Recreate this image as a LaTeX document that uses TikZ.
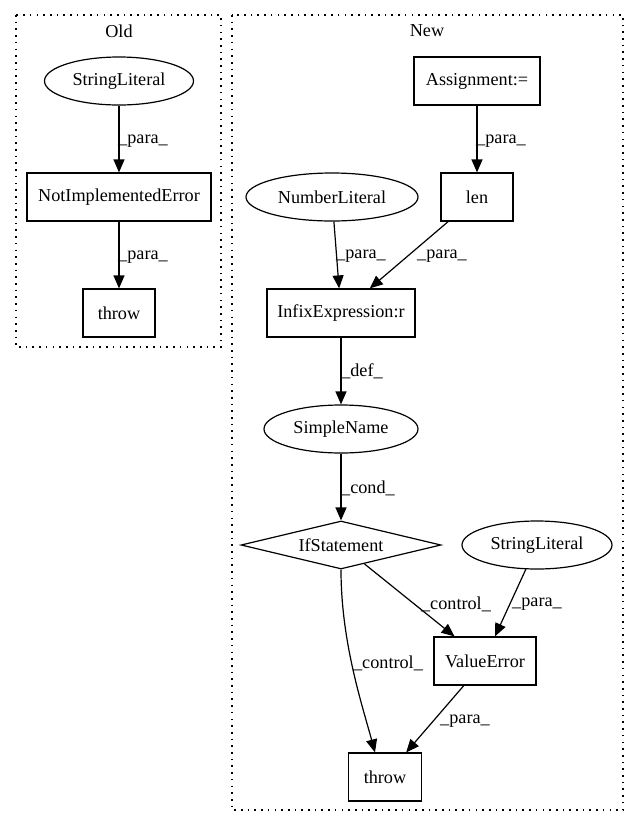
\documentclass[tikz,border=0pt]{standalone}
\usepackage{fontspec}
\setmainfont{Liberation Serif}
\usetikzlibrary{shapes.geometric,arrows.meta}
\begin{document}
\begin{tikzpicture}[x=1pt,y=-1pt,
  font=\fontsize{18.2}{21}\selectfont,
  every node/.style={inner sep=0pt},
  box/.style={draw, rectangle, line width=1.2pt, minimum height=48pt},
  ell/.style={draw, ellipse, line width=1.2pt, minimum height=48pt},
  dia/.style={draw, diamond, line width=1.2pt, minimum width=200pt, minimum height=48pt, aspect=4.17},
  edge/.style={-{Triangle[length=13pt,width=11pt]}, line width=1.2pt},
  cluster/.style={line width=1.3pt, dash pattern=on 1.6pt off 5.1pt}]
\useasboundingbox (0,0) rectangle (639,828);

% Old cluster
\draw[cluster] (16,15) rectangle (221,347);
\node (oldlbl) at (119,31) {Old};
\node[ell, minimum width=149pt] (osl) at (119,81) {StringLiteral};
\node[box, minimum width=184pt] (nie) at (119,197) {NotImplementedError};
\node[box, minimum width=72pt] (othr) at (119,313) {throw};
\draw[edge] (osl) -- (nie);
\node (l1) at (143,141) {\_para\_};
\draw[edge] (nie) -- (othr);
\node (l2) at (143,257) {\_para\_};

% New cluster
\draw[cluster] (232,15) rectangle (623,810);
\node (newlbl) at (427,31) {New};
\node[box, minimum width=126pt] (asg) at (477,81) {Assignment:=};
\node[box, minimum width=72pt] (len) at (477,197) {len};
\node[ell, minimum width=172pt] (nl) at (332,197) {NumberLiteral};
\node[box, minimum width=148pt] (inf) at (341,313) {InfixExpression:r};
\node[ell, minimum width=154pt] (sn) at (341,429) {SimpleName};
\node[dia] (ifs) at (341,545) {IfStatement};
\node[ell, minimum width=150pt] (sl2) at (537,545) {StringLiteral};
\node[box, minimum width=102pt] (ve) at (485,661) {ValueError};
\node[box, minimum width=73pt] (thr) at (385,777) {throw};

\draw[edge] (asg) -- (len);
\node (l3) at (501,141) {\_para\_};
\draw[edge] (nl) -- (inf);
\node (l4) at (361,256) {\_para\_};
\draw[edge] (len) -- (inf);
\node (l5) at (442,256) {\_para\_};
\draw[edge] (inf) -- (sn);
\node (l6) at (362,371) {\_def\_};
\draw[edge] (sn) -- (ifs);
\node (l7) at (368,488) {\_cond\_};
\draw[edge] (ifs) -- (ve);
\node (l8) at (456,604) {\_control\_};
\draw[edge] (sl2) -- ([xshift=10pt]ve.north);
\node (l9) at (537,604) {\_para\_};
\draw[edge] (ifs.south) .. controls +(0,72) and +(-13,-48) .. ([xshift=-10pt]thr.north);
\node (l10) at (388,663) {\_control\_};
\draw[edge] (ve) -- (thr);
\node (l11) at (465,721) {\_para\_};
\end{tikzpicture}
\end{document}
